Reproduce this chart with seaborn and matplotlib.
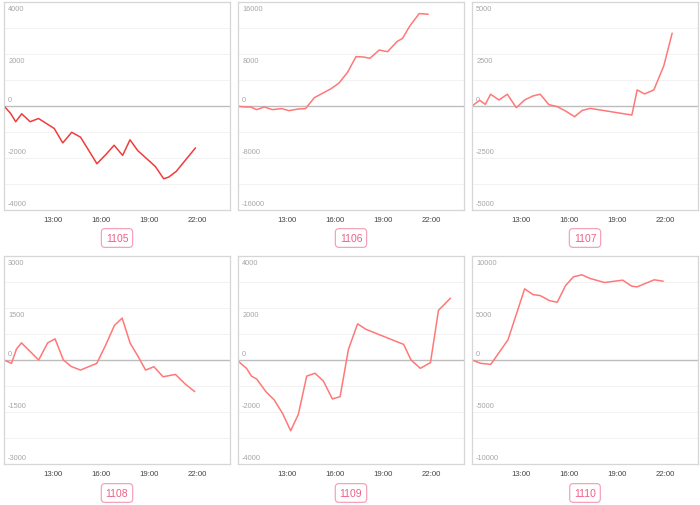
import pandas as pd
import matplotlib
matplotlib.use("Agg")
import matplotlib.pyplot as plt
import seaborn as sns

# contract codes shown under each panel
codes = ["1105", "1106", "1107", "1108", "1109", "1110"]

# hours (decimal) and values
t_1105 = [9.97, 10.38, 10.7, 11.07, 11.6, 12.12, 13.1, 13.63, 14.19, 14.74, 15.76,
          16.31, 16.83, 17.36, 17.82, 18.3, 19.39, 19.92, 20.23, 20.7, 21.9]
v_1105 = [0, -285, -605, -300, -605, -480, -865, -1420, -1010, -1200, -2220,
          -1870, -1510, -1900, -1300, -1715, -2320, -2800, -2735, -2515, -1610]

t_1106 = [9.97, 10.41, 10.76, 11.13, 11.61, 12.11, 12.69, 13.15, 13.73, 14.18, 14.72,
          15.18, 15.76, 16.26, 16.8, 17.32, 17.77, 18.19, 18.77, 19.29, 19.89,
          20.22, 20.68, 21.26, 21.82]
v_1106 = [-50, -150, -150, -560, -150, -560, -400, -710, -460, -400, 1270,
          1890, 2650, 3520, 5200, 7590, 7540, 7340, 8610, 8360, 9940,
          10400, 12330, 14220, 14120]

t_1107 = [9.97, 10.45, 10.8, 11.13, 11.65, 12.17, 12.73, 13.25, 13.77, 14.22, 14.76,
          15.28, 15.8, 16.36, 16.84, 17.34, 19.93, 20.26, 20.72, 21.3, 21.92, 22.44]
v_1107 = [0, 274, 80, 565, 290, 565, -80, 290, 485, 565, 65,
          -30, -240, -515, -210, -115, -435, 775, 580, 775, 1935, 3500]

t_1108 = [9.97, 10.44, 10.75, 11.06, 12.13, 12.69, 13.15, 13.67, 14.15, 14.73, 15.75,
          16.29, 16.85, 17.33, 17.83, 18.27, 18.79, 19.31, 19.88, 20.65, 21.27, 21.85]
v_1108 = [0, -97, 320, 494, 0, 494, 610, 0, -184, -290, -97,
          416, 997, 1210, 484, 145, -290, -194, -484, -416, -697, -910]

t_1109 = [9.97, 10.5, 10.81, 11.13, 11.71, 12.23, 12.75, 13.25, 13.73, 14.25, 14.77,
          15.29, 15.85, 16.33, 16.85, 17.42, 17.94, 20.29, 20.75, 21.33, 21.96,
          22.46, 23.21]
v_1109 = [-40, -320, -620, -730, -1220, -1540, -2060, -2720, -2090, -620, -510,
          -810, -1500, -1410, 410, 1390, 1180, 600, 0, -320, -100,
          1910, 2380]

t_1110 = [9.97, 10.52, 11.14, 12.21, 13.25, 13.77, 14.22, 14.8, 15.28, 15.8, 16.29,
          16.81, 17.33, 18.22, 19.36, 19.92, 20.25, 21.32, 21.88]
v_1110 = [0, -320, -420, 1935, 6840, 6290, 6190, 5710, 5550, 7160, 8000,
          8190, 7840, 7450, 7680, 7100, 7030, 7710, 7580]

# y-axis label step per panel (axis spans -2 steps .. +2 steps)
label_steps = [2000, 8000, 2500, 1500, 2000, 5000]

x_ticks = [13, 16, 19, 22]
x_labels = ["13:00", "16:00", "19:00", "22:00"]

series = [(t_1105, v_1105), (t_1106, v_1106), (t_1107, v_1107),
          (t_1108, v_1108), (t_1109, v_1109), (t_1110, v_1110)]
line_colors = ["#f03c3c", "#ff7878", "#ff7878", "#ff7878", "#ff7878", "#ff7878"]

sns.set_style("white")
plt.rcParams["font.family"] = ["Liberation Sans", "DejaVu Sans"]

W, H = 700, 506
fig = plt.figure(figsize=(W / 100, H / 100), dpi=100)

lefts = [4, 238, 472]
tops = [3, 257]
ax_w, ax_h = 226, 208

for i, code in enumerate(codes):
    left = lefts[i % 3]
    top = tops[i // 3]
    ax = fig.add_axes([left / W, 1 - (top + ax_h) / H, ax_w / W, ax_h / H])
    t, v = series[i]
    df = pd.DataFrame({"hour": t, "value": v})
    sns.lineplot(data=df, x="hour", y="value", ax=ax, color=line_colors[i],
                 linewidth=1.1)

    step = label_steps[i]
    ax.set_xlim(9.97, 24.05)
    ax.set_ylim(-2 * step, 2 * step)

    # light grid every half step
    grid_vals = [k * step / 2 for k in range(-4, 5)]
    ax.set_yticks(grid_vals)
    ax.set_yticklabels([])
    ax.tick_params(axis="y", length=0)
    ax.yaxis.grid(True, color="#f2f2f2", linewidth=0.7)
    ax.set_axisbelow(True)
    ax.axhline(0, color="#bdbdbd", linewidth=1.0, zorder=1)

    # y labels drawn inside the plot, near their lines
    for k in range(-2, 3):
        val = k * step
        dy = -4.5 if val > 0 else 4.5
        ax.annotate(f"{val}", xy=(0, val), xycoords=("axes fraction", "data"),
                    xytext=(3, dy), textcoords="offset points",
                    ha="left", va="center", fontsize=5.3, color="#a6a6a6")

    ax.set_xticks(x_ticks)
    ax.set_xticklabels(x_labels)
    ax.tick_params(axis="x", length=2.5, width=0.6, color="#cccccc",
                   labelsize=5.6, labelcolor="#444444", pad=2)
    ax.set_xlabel("")
    ax.set_ylabel("")
    for sp in ax.spines.values():
        sp.set_color("#d6d6d6")
        sp.set_linewidth(0.9)

    # code badge under the panel
    cx = left + ax_w / 2
    cy = top + ax_h + 28 if i < 3 else top + ax_h + 29
    fig.text(cx / W, 1 - cy / H, code, ha="center", va="center",
             fontsize=7.5, color="#ee5f88",
             bbox=dict(boxstyle="round,pad=0.42,rounding_size=0.35",
                       fc="white", ec="#f5a3bb", lw=0.9))

fig.savefig("out.png", dpi=100)
